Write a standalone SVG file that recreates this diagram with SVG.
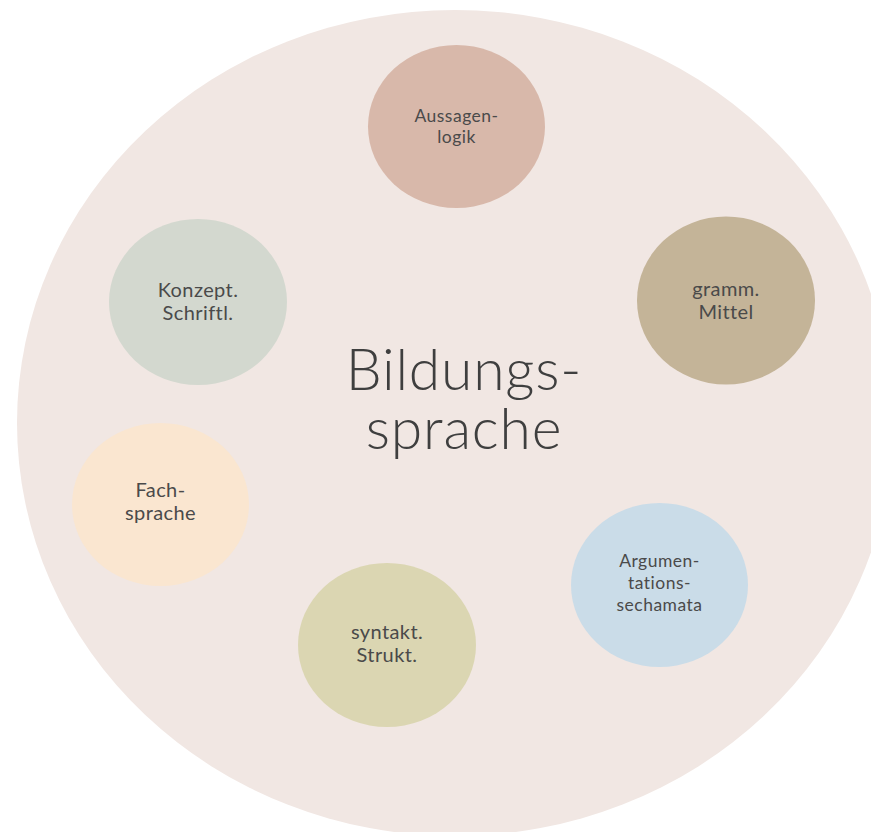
<svg xmlns="http://www.w3.org/2000/svg" width="871" height="832" viewBox="0 0 871 832">
<style>
text{font-family:Lato,"Noto Sans","Liberation Sans",sans-serif;fill:#4a4a4a;text-anchor:middle}
.t{font-size:20px;letter-spacing:0.4px}
.s{font-size:17.5px;letter-spacing:0.5px}
.title{font-size:57px;font-weight:300;fill:#3f3f3f;letter-spacing:0.8px}
</style>
<rect width="871" height="832" fill="#ffffff"/>
<g id="bg">
<ellipse cx="455" cy="423" rx="438" ry="413" fill="#f1e7e3"/>
<text class="title" x="464" y="390">Bildungs-</text>
<text class="title" x="464" y="449">sprache</text>
</g>
<g id="connectors"></g>
<g id="n-aussagenlogik">
<ellipse cx="456.5" cy="126.5" rx="88.5" ry="81.5" fill="#d8b8aa"/>
<text class="s" x="456.5" y="122">Aussagen-</text>
<text class="s" x="456.5" y="143">logik</text>
</g>
<g id="n-gramm">
<ellipse cx="726" cy="300.5" rx="89" ry="84" fill="#c4b498"/>
<text class="t" x="726" y="296">gramm.</text>
<text class="t" x="726" y="319">Mittel</text>
</g>
<g id="n-konzept">
<ellipse cx="198" cy="302" rx="89" ry="83" fill="#d3d8cf"/>
<text class="t" x="198" y="297">Konzept.</text>
<text class="t" x="198" y="320">Schriftl.</text>
</g>
<g id="n-fach">
<ellipse cx="160.5" cy="504.5" rx="88.5" ry="81.5" fill="#fae6d0"/>
<text class="t" x="160.5" y="497">Fach-</text>
<text class="t" x="160.5" y="520">sprache</text>
</g>
<g id="n-syntakt">
<ellipse cx="387" cy="645" rx="89" ry="82" fill="#dbd6b2"/>
<text class="t" x="387" y="639">syntakt.</text>
<text class="t" x="387" y="662">Strukt.</text>
</g>
<g id="n-argument">
<ellipse cx="659.5" cy="585" rx="88.5" ry="82" fill="#cadce8"/>
<text class="s" x="659.5" y="567">Argumen-</text>
<text class="s" x="659.5" y="589">tations-</text>
<text class="s" x="659.5" y="611">sechamata</text>
</g>
</svg>
